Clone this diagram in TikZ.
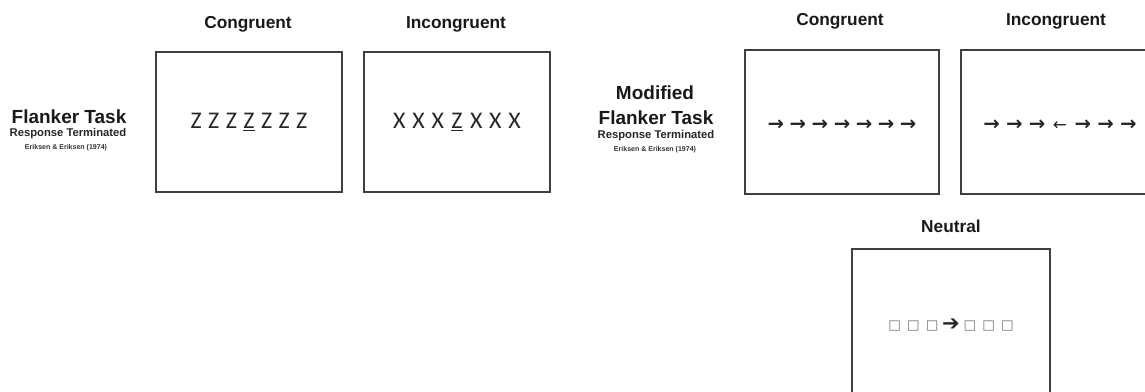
\documentclass[tikz,border=0pt]{standalone}
\usepackage{fontspec}
\setmainfont{Liberation Sans}
\newfontfamily\stimfont{Carlito}
\newfontfamily\symfont{DejaVu Sans}
\usetikzlibrary{positioning}

\newcommand{\cell}[2][4.4mm]{\makebox[#1]{#2}}
\newcommand{\blank}{\raisebox{0.8pt}{\textcolor{black!55}{□}}}

\begin{document}
\begin{tikzpicture}[x=0.025cm, y=-0.025cm,
    screen/.style={draw=black!75, line width=0.9pt, inner sep=0pt},
    heading/.style={font=\bfseries\fontsize{12.3}{14}\selectfont, text=black!90},
    taskline/.style={font=\bfseries\fontsize{13.5}{15}\selectfont, text=black!90, inner sep=0pt},
    subline/.style={font=\bfseries\fontsize{8}{9}\selectfont, text=black!85, inner sep=0pt},
    refline/.style={font=\bfseries\fontsize{5}{6}\selectfont, text=black!80, inner sep=0pt},
    letters/.style={font=\stimfont\fontsize{17}{20}\selectfont, text=black!85},
    arrowrow/.style={font=\symfont\bfseries\fontsize{14}{16}\selectfont, text=black!85}]

  \useasboundingbox (0,0) rectangle (1145,392);
  \clip (0,0) rectangle (1145,392);

  \node[taskline] (flanker) at (69,117) {Flanker Task};
  \node[subline] (flankerresp) at (68,134) {Response Terminated};
  \node[refline] (flankerref) at (66,148) {Eriksen \& Eriksen (1974)};

  \node[screen, minimum width=186*0.025cm, minimum height=140*0.025cm] (congA) at (249,122) {};
  \node[screen, minimum width=186*0.025cm, minimum height=140*0.025cm] (incongA) at (457,122) {};
  \node[heading] (congAtitle) at (248,24) {Congruent};
  \node[heading] (incongAtitle) at (456,24) {Incongruent};

  \node[letters] (congArow) at (congA.center) {\cell{Z}\cell{Z}\cell{Z}\cell{\underline{Z}}\cell{Z}\cell{Z}\cell{Z}};
  \node[letters] (incongArow) at (incongA.center) {\cell[4.8mm]{X}\cell[4.8mm]{X}\cell[4.8mm]{X}\cell[4.8mm]{\underline{Z}}\cell[4.8mm]{X}\cell[4.8mm]{X}\cell[4.8mm]{X}};

  \node[taskline] (modified) at (655,93) {Modified};
  \node[taskline] (modflanker) at (656,118) {Flanker Task};
  \node[subline] (modresp) at (656,136) {Response Terminated};
  \node[refline] (modref) at (655,150) {Eriksen \& Eriksen (1974)};

  \node[screen, minimum width=194*0.025cm, minimum height=144*0.025cm] (congB) at (842,122) {};
  \node[screen, minimum width=240*0.025cm, minimum height=144*0.025cm] (incongB) at (1081,122) {};
  \node[screen, minimum width=198*0.025cm, minimum height=152*0.025cm] (neutral) at (951,325) {};
  \node[heading] (congBtitle) at (840,21) {Congruent};
  \node[heading] (incongBtitle) at (1056,21) {Incongruent};
  \node[heading] (neutraltitle) at (951,226) {Neutral};

  \node[arrowrow] (congBrow) at (842,125) {\cell[5.5mm]{→}\cell[5.5mm]{→}\cell[5.5mm]{→}\cell[5.5mm]{→}\cell[5.5mm]{→}\cell[5.5mm]{→}\cell[5.5mm]{→}};
  \node[arrowrow] (incongBrow) at (1060,125) {\cell[5.7mm]{→}\cell[5.7mm]{→}\cell[5.7mm]{→}\cell[5.7mm]{\mdseries\fontsize{12}{13}\selectfont ←}\cell[5.7mm]{→}\cell[5.7mm]{→}\cell[5.7mm]{→}};
  \node[arrowrow, font=\symfont\fontsize{9.5}{11}\selectfont] (neutralrow) at (neutral.center) {\cell[4.7mm]{\blank}\cell[4.7mm]{\blank}\cell[4.7mm]{\blank}\cell[4.7mm]{\fontsize{15}{16}\selectfont ➔}\cell[4.7mm]{\blank}\cell[4.7mm]{\blank}\cell[4.7mm]{\blank}};
\end{tikzpicture}
\end{document}
